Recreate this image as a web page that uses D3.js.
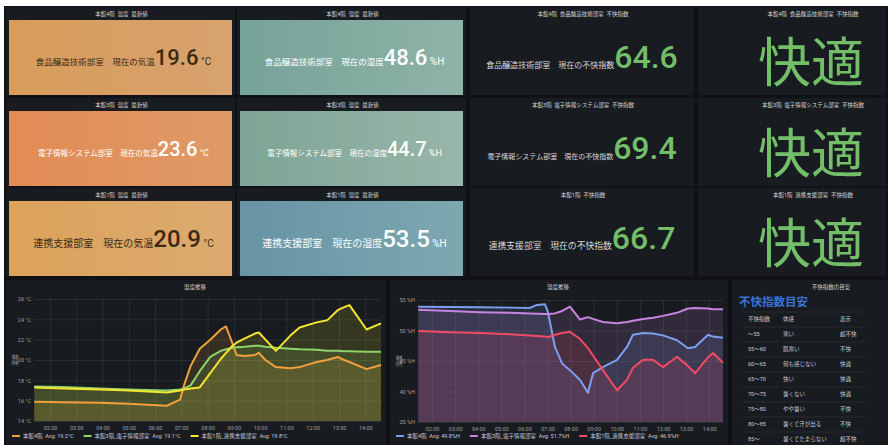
<!DOCTYPE html>
<html><head><meta charset="utf-8">
<script src="https://cdn.jsdelivr.net/npm/d3@7/dist/d3.min.js"></script>
<style>
body{margin:0;background:#fff;}
svg{display:block;font-family:Roboto,"Noto Sans CJK JP",sans-serif;}
</style></head><body>
<svg id="c" width="888" height="445"></svg>
<script>
// ---------- data ----------
const rooms = ["食品醸造技術部室", "電子情報システム部室", "連携支援部室"];
const tempTitles = ["本館4階  温度  最新値", "本館3階  温度  最新値", "本館1階  温度  最新値"];
const humTitles = ["本館4階  湿度  最新値", "本館3階  湿度  最新値", "本館1階  湿度  最新値"];
const diTitles = ["本館4階  食品醸造技術部室  不快指数", "本館3階  電子情報システム部室  不快指数", "本館1階  不快指数"];
const stateTitles = ["本館4階  食品醸造技術部室  不快指数", "本館3階  電子情報システム部室  不快指数", "本館1階  連携支援部室  不快指数"];
const tempNow = [19.6, 23.6, 20.9];
const humNow = [48.6, 44.7, 53.5];
const diNow = [64.6, 69.4, 66.7];
const diState = ["快適", "快適", "快適"];

const hourTicks = [2,3,4,5,6,7,8,9,10,11,12,13,14];
const hourLabels = ["02:00","03:00","04:00","05:00","06:00","07:00","08:00","09:00","10:00","11:00","12:00","13:00","14:00"];
const tempTicks = [14,16,18,20,22,24,26];
const humTicks = [35,40,45,50,55];

const tempTimes = [1.4,2.5,3.9,5.0,6.45,6.95,7.1,7.35,7.7,8.1,8.5,8.7,8.95,9.1,9.4,9.8,9.95,10.2,10.6,11.15,11.5,12.15,12.55,12.95,13.2,13.4,14.05,14.6];
const temp4F = [15.9,15.85,15.8,15.7,15.5,16.1,17.5,19.4,21.1,22.0,23.0,23.3,21.6,20.5,20.4,20.5,20.7,20.0,19.3,19.2,19.3,19.8,20.0,20.3,20.0,19.8,19.1,19.5];
const temp3F = [17.4,17.35,17.2,17.1,17.0,17.1,17.2,17.5,18.9,20.3,20.9,21.05,21.2,21.25,21.3,21.4,21.4,21.3,21.2,21.1,21.05,21.0,20.9,20.9,20.85,20.85,20.8,20.8];
const temp1F = [17.3,17.2,17.1,17.0,16.8,17.0,17.1,17.2,17.3,18.7,20.1,20.7,21.4,21.7,22.1,22.6,22.7,22.0,20.9,22.4,23.2,23.7,23.9,24.9,25.2,25.4,23.0,23.6];
const tempLegend = ["本館4階  Avg: 19.2°C", "本館3階_電子情報部室  Avg: 19.1°C", "本館1階_連携支援部室  Avg: 19.8°C"];

const humTimes = [1.4,2.78,4.08,5.37,6.24,6.54,6.89,7.02,7.32,7.63,7.97,8.41,8.75,8.97,9.40,10.01,10.44,10.70,11.14,11.57,12.0,12.61,13.08,13.39,13.95,14.17,14.6];
const hum4F = [53.9,53.85,53.8,53.75,53.7,54.2,54.3,53.0,47.3,44.6,43.5,41.9,39.8,43.0,44.0,45.2,47.3,49.3,49.6,49.5,49.2,48.4,47.1,47.3,49.3,49.0,48.8];
const hum3F = [53.4,53.2,53.0,52.9,52.8,52.75,52.7,52.7,52.8,53.2,53.9,51.8,52.2,51.9,51.4,51.2,51.4,51.6,51.9,52.1,52.4,52.9,53.6,53.7,53.6,53.5,53.5];
const hum1F = [49.9,49.7,49.6,49.4,49.2,49.1,49.0,48.9,49.3,49.6,49.8,48.6,47.1,45.9,43.5,40.2,41.9,43.9,45.2,45.2,44.0,45.7,44.2,43.0,45.6,46.3,44.7];
const humLegend = ["本館4階  Avg: 49.8%H", "本館3階_電子情報部室  Avg: 51.7%H", "本館1階_連携支援部室  Avg: 46.9%H"];

const diRanges = ["不快指数", "～55", "55～60", "60～65", "65～70", "70～75", "75～80", "80～85", "85～"];
const diFeel = ["体感", "寒い", "肌寒い", "何も感じない", "快い", "暑くない", "やや暑い", "暑くて汗が出る", "暑くてたまらない"];
const diShow = ["表示", "超不快", "不快", "快適", "快適", "快適", "不快", "不快", "超不快"];

// ---------- drawing ----------
const svg = d3.select("#c");
const defs = svg.append("defs");
svg.append("rect").attr("x", 4).attr("y", 6).attr("width", 884).attr("height", 439).attr("fill", "#111217");

const rowTop = [7, 98, 188];
const cols = [{x: 6, w: 231}, {x: 237, w: 231}, {x: 470, w: 226}, {x: 698, w: 190}];
const tempGrad = [["#d89d5a", "#d8a26f"], ["#e28b55", "#df9a68"], ["#dba25a", "#dcaa70"]];
const humGrad = [["#76a398", "#8fb3a8"], ["#7da494", "#98b6a9"], ["#6793a5", "#7ea8b0"]];
const tempTxt = ["#3b2914", "#ffffff", "#3b2914"];
const lblSize = [8.5, 7.5, 10], valSize = [22, 20, 24], unitSize = [10, 9, 10];
const diLbl = [8, 7, 8.8];

function gradient(id, c) {
  const g = defs.append("linearGradient").attr("id", id).attr("x1", "0%").attr("x2", "100%");
  g.append("stop").attr("offset", "0%").attr("stop-color", c[0]);
  g.append("stop").attr("offset", "100%").attr("stop-color", c[1]);
}
function panel(x, y, w, h, title, tx) {
  svg.append("rect").attr("x", x).attr("y", y).attr("width", w - 2).attr("height", h).attr("fill", "#181b1f");
  svg.append("text").attr("x", tx !== undefined ? tx : x + w / 2).attr("y", y + 9).attr("text-anchor", "middle")
    .attr("font-size", 5.5).attr("fill", "#d8d9da").attr("xml:space", "preserve").text(title);
}

rowTop.forEach((top, r) => {
  [0, 1].forEach(ci => {
    const c = cols[ci];
    panel(c.x, top, c.w, 88, ci === 0 ? tempTitles[r] : humTitles[r]);
    const id = "g" + ci + r;
    gradient(id, ci === 0 ? tempGrad[r] : humGrad[r]);
    svg.append("rect").attr("x", c.x + 3).attr("y", top + 13).attr("width", c.w - 8).attr("height", 75).attr("fill", `url(#${id})`);
    const col = ci === 0 ? tempTxt[r] : "#ffffff";
    const t = svg.append("text").attr("x", c.x + 3 + (c.w - 8) / 2 + 3).attr("y", top + 13 + 37.5 + valSize[r] * 0.36)
      .attr("text-anchor", "middle").attr("fill", col);
    t.append("tspan").attr("font-size", lblSize[r]).text(rooms[r] + "　" + (ci === 0 ? "現在の気温" : "現在の湿度"));
    t.append("tspan").attr("font-size", valSize[r]).attr("font-weight", 500).text((ci === 0 ? tempNow[r] : humNow[r]).toFixed(1));
    t.append("tspan").attr("font-size", unitSize[r]).text(ci === 0 ? " °C" : " %H");
  });
  const c3 = cols[2];
  panel(c3.x, top, c3.w, 88, diTitles[r]);
  const t3 = svg.append("text").attr("x", c3.x + c3.w / 2 - 1).attr("y", top + 13 + 37 + 11).attr("text-anchor", "middle");
  t3.append("tspan").attr("font-size", diLbl[r]).attr("fill", "#d8d9da").text(rooms[r] + "　現在の不快指数");
  t3.append("tspan").attr("font-size", 32).attr("font-weight", 500).attr("fill", "#73bf69").text(diNow[r].toFixed(1));
  const c4 = cols[3];
  panel(c4.x, top, c4.w, 88, stateTitles[r], c4.x + c4.w / 2 + 20);
  svg.append("text").attr("x", c4.x + 113).attr("y", top + 75).attr("text-anchor", "middle")
    .attr("font-size", 53).attr("fill", "#73bf69").attr("font-family", "'Noto Sans CJK JP'").text(diState[r]);
});

// ---------- time series ----------
function tsPanel(cfg) {
  panel(cfg.px, 280, cfg.pw, 165, cfg.title, cfg.titleX);
  const x = d3.scaleLinear().domain([1.39, 14.6]).range(cfg.xr);
  const y = d3.scaleLinear().domain(cfg.yd).range(cfg.yr);
  const g = svg.append("g");
  g.append("g").attr("transform", `translate(0,${cfg.yr[0]})`)
    .call(d3.axisBottom(x).tickValues(hourTicks).tickSize(-(cfg.yr[0] - cfg.yr[1])).tickFormat(""))
    .call(s => s.select(".domain").remove())
    .call(s => s.selectAll("line").attr("stroke", "rgba(204,204,220,0.1)"));
  g.append("g").attr("transform", `translate(${cfg.xr[0]},0)`)
    .call(d3.axisLeft(y).tickValues(cfg.yt).tickSize(-(cfg.xr[1] - cfg.xr[0])).tickFormat(""))
    .call(s => s.select(".domain").remove())
    .call(s => s.selectAll("line").attr("stroke", "rgba(204,204,220,0.1)"));
  g.append("g").attr("transform", `translate(${cfg.xr[0]},0)`)
    .call(d3.axisLeft(y).tickValues(cfg.yt).tickSize(0).tickPadding(3).tickFormat(cfg.yf))
    .call(s => s.select(".domain").remove())
    .call(s => s.selectAll("text").attr("fill", "#9fa1a6").attr("font-size", 5.5).attr("font-family", "Roboto"));
  g.append("g").attr("transform", `translate(0,${cfg.yr[0]})`)
    .call(d3.axisBottom(x).tickValues(hourTicks).tickSize(0).tickPadding(5).tickFormat((d, i) => hourLabels[i]))
    .call(s => s.select(".domain").remove())
    .call(s => s.selectAll("text").attr("fill", "#9fa1a6").attr("font-size", 5.5).attr("font-family", "Roboto"));
  svg.append("text").attr("transform", `translate(${cfg.xr[0] - 17},${(cfg.yr[0] + cfg.yr[1]) / 2}) rotate(-90)`)
    .attr("text-anchor", "middle").attr("font-size", 6).attr("fill", "#9fa1a6").text(cfg.ylabel);
  const area = d3.area().x((d, i) => x(cfg.times[i])).y0(cfg.yr[0]).y1(d => y(d));
  const line = d3.line().x((d, i) => x(cfg.times[i])).y(d => y(d));
  cfg.series.forEach((s, k) => {
    svg.append("path").datum(s).attr("d", area).attr("fill", cfg.colors[k]).attr("fill-opacity", 0.14);
  });
  cfg.series.forEach((s, k) => {
    svg.append("path").datum(s).attr("d", line).attr("fill", "none").attr("stroke", cfg.colors[k]).attr("stroke-width", 2)
      .attr("stroke-linejoin", "round");
  });
  let lx = cfg.px + 6;
  cfg.legend.forEach((txt, k) => {
    svg.append("line").attr("x1", lx).attr("x2", lx + 8).attr("y1", 436).attr("y2", 436)
      .attr("stroke", cfg.colors[k]).attr("stroke-width", 2);
    const t = svg.append("text").attr("x", lx + 11).attr("y", 438).attr("font-size", 5.5).attr("fill", "#ccccdc")
      .attr("xml:space", "preserve").text(txt);
    lx += 11 + t.node().getComputedTextLength() + 10;
  });
}

tsPanel({
  px: 6, pw: 382, title: "温度推移", titleX: 195,
  xr: [34, 381], yr: [421, 299], yd: [14, 26], yt: tempTicks, yf: d => d + " °C", ylabel: "温度",
  times: tempTimes, series: [temp4F, temp3F, temp1F], colors: ["#f2a03d", "#8ed36a", "#f4e531"], legend: tempLegend
});
tsPanel({
  px: 390, pw: 340, title: "湿度推移", titleX: 558,
  xr: [418, 723], yr: [422, 300], yd: [35, 55], yt: humTicks, yf: d => d + " %H", ylabel: "湿度",
  times: humTimes, series: [hum4F, hum3F, hum1F], colors: ["#7c9ff2", "#c884e2", "#f24b66"], legend: humLegend
});

// ---------- table ----------
panel(732, 280, 158, 165, "不快指数の目安", 831);
svg.append("text").attr("x", 739).attr("y", 306).attr("font-size", 11.5).attr("font-weight", 700)
  .attr("fill", "#3b73d6").text("不快指数目安");
diRanges.forEach((r, i) => {
  const yy = 321 + i * 15;
  svg.append("line").attr("x1", 742).attr("x2", 866).attr("y1", yy - 9).attr("y2", yy - 9).attr("stroke", "#2c2f35").attr("stroke-width", 0.8);
  [[748, r], [783, diFeel[i]], [840, diShow[i]]].forEach(([xx, s]) => {
    svg.append("text").attr("x", xx).attr("y", yy).attr("font-size", 5.5).attr("fill", "#ccccdc").text(s);
  });
});
</script>
</body></html>
